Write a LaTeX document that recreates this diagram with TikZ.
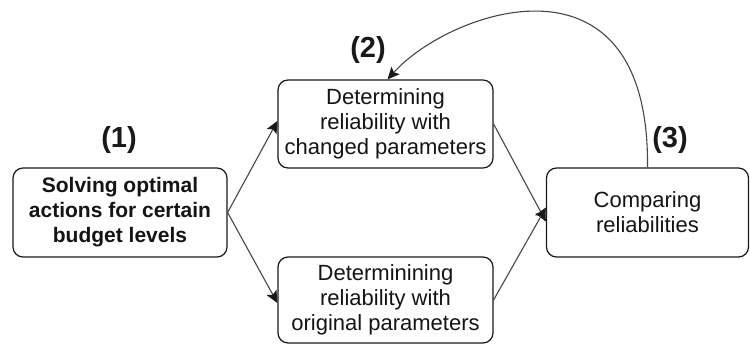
\documentclass[tikz,border=0pt]{standalone}
\usepackage{fontspec}
\setmainfont{Liberation Sans}
\usetikzlibrary{arrows.meta}
\begin{document}
\begin{tikzpicture}[x=1pt,y=-1pt,
  box/.style={draw=black!90, line width=1.2pt, rounded corners=10pt, align=center, inner sep=0pt, text=black!92, font=\fontsize{22}{25}\selectfont},
  lbl/.style={font=\fontsize{29}{32}\selectfont\bfseries, text=black!90},
  conn/.style={draw=black!72, line width=1.1pt, -{Stealth[length=12pt,width=11pt,inset=2.5pt,color=black!90]}}]
\useasboundingbox (0,0) rectangle (750,345);
\node[box, minimum width=214pt, minimum height=89pt, font=\fontsize{21}{25}\selectfont\bfseries] (s1) at (120,212.5) {Solving optimal\\actions for certain\\budget levels};
\node[box, minimum width=215pt, minimum height=88pt] (s2) at (385.5,124) {Determining\\reliability with\\changed parameters};
\node[box, minimum width=215pt, minimum height=86pt] (s4) at (385.5,300) {Determinining\\reliability with\\original parameters};
\node[box, minimum width=202pt, minimum height=89pt] (s3) at (647.5,212.5) {Comparing\\reliabilities};
\node[lbl] (l1) at (119,140) {(1)};
\node[lbl] (l2) at (368,50) {(2)};
\node[lbl] (l3) at (670,140) {(3)};
\draw[conn] (s1.east) -- ([yshift=3pt]s2.west);
\draw[conn] (s1.east) -- ([yshift=-3pt]s4.west);
\draw[conn] (s2.east) -- ([yshift=-9pt]s3.west);
\draw[conn] (s4.east) -- ([yshift=5pt]s3.west);
\draw[conn] (s3.north) .. controls (650,-60) and (450,10) .. ([xshift=2pt]s2.north);
\end{tikzpicture}
\end{document}
